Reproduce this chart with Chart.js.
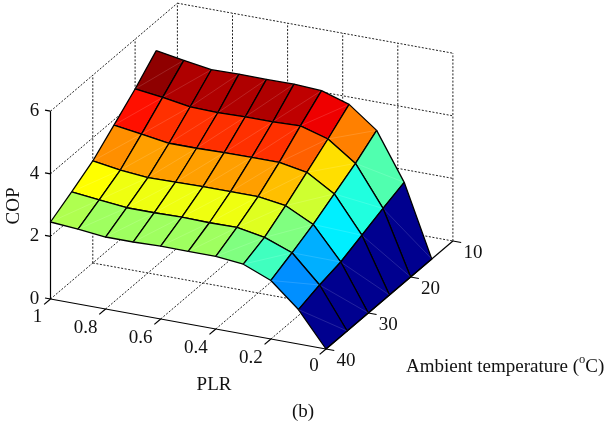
<!DOCTYPE html>
<html><head><meta charset="utf-8">
<style>html,body{margin:0;padding:0;background:#fff}canvas{display:block}</style>
<script src="https://cdn.jsdelivr.net/npm/chart.js@4"></script>
</head><body><canvas id="c" width="607" height="427"></canvas>
<script>
const plrGrid = [1,0.9,0.8,0.7,0.6,0.5,0.4,0.3,0.2,0.1,0];
const tempGrid = [15,20,25,30,35,40];
const cop15 = [5.06,4.91,4.77,4.79,4.78,4.79,4.74,4.46,3.79,2.29,0];
const cop20 = [4.41,4.30,4.16,4.13,4.16,4.16,4.19,3.93,3.31,2.03,0];
const cop25 = [3.83,3.70,3.57,3.57,3.59,3.60,3.60,3.44,2.91,1.75,0];
const cop30 = [3.26,3.13,3.05,3.06,3.08,3.08,3.08,2.95,2.51,1.47,0];
const cop35 = [2.85,2.75,2.66,2.66,2.68,2.66,2.67,2.51,2.18,1.31,0];
const cop40 = [2.46,2.39,2.30,2.30,2.33,2.32,2.32,2.23,1.87,1.10,0];
const copRows = [cop15,cop20,cop25,cop30,cop35,cop40];
const plrTicks = [1,0.8,0.6,0.4,0.2,0];
const plrLabels = ['1','0.8','0.6','0.4','0.2','0'];
const tempTicks = [40,30,20,10];
const copTicks = [0,2,4,6];

// orthographic view of the 3-D box (PLR, temperature, COP) into the 2-D scales
function project(p,t,z){
  return {x: 326 - 275.5*p + 4.23*(40-t), y: 349 - 50*p - 3.6*(40-t) - 31.3*z};
}
const zMax = 5.06;
function jet(v){
  const f = Math.max(0,Math.min(1,v/zMax));
  const k = (Math.min(63,Math.floor(f*64))+1)/64;
  const c = d => Math.round(255*Math.max(0,Math.min(1,1.5-Math.abs(4*k-d))));
  return `rgb(${c(3)},${c(2)},${c(1)})`;
}
const drawn = [];
function seg(a,b,style){
  drawn.push(Object.assign({data:[project(...a),project(...b)],showLine:true,pointRadius:0,fill:false,borderColor:'#000',borderWidth:1},style));
}
const dash = {borderDash:[2,1.6],borderWidth:1,borderColor:'#222'};
// back walls and floor grid
for(const z of copTicks.slice(1)){
  seg([1,40,z],[1,10,z],dash);
  seg([1,10,z],[0,10,z],dash);
}
for(const t of [30,20,10]) seg([1,t,0],[1,t,6],dash);
for(const p of [0.8,0.6,0.4,0.2,0]) seg([p,10,0],[p,10,6],dash);
for(const p of [1,0.8,0.6,0.4,0.2]) seg([p,40,0],[p,10,0],dash);
for(const t of [30,20,10]) seg([1,t,0],[0,t,0],dash);
// surface, painted far to near
tempGrid.slice(0,-1).forEach((t,j)=>{
  plrGrid.slice(0,-1).forEach((p,i)=>{
    const q=plrGrid[i+1], u=tempGrid[j+1];
    const r=copRows[j], s=copRows[j+1];
    const pts=[project(p,t,r[i]),project(q,t,r[i+1]),project(q,u,s[i+1]),project(p,u,s[i]),project(p,t,r[i])];
    drawn.push({data:pts,showLine:true,pointRadius:0,fill:'shape',tension:0,
      backgroundColor:jet(r[i+1]),borderColor:'#000',borderWidth:1.3,borderJoinStyle:'round'});
    drawn.push({data:[project(p,u,s[i]),project(q,t,r[i+1])],showLine:true,pointRadius:0,fill:false,
      borderColor:'rgba(255,255,255,0.2)',borderWidth:0.7});
  });
});
// solid front axes and ticks
const solid={borderColor:'#000',borderWidth:1.2};
seg([1,40,0],[1,40,6],solid);
seg([1,40,0],[0,40,0],solid);
seg([0,40,0],[0,10,0],solid);
for(const z of copTicks) seg([1,40,z],[1.02,40,z],solid);
for(const p of plrTicks) seg([p,40,0],[p,41.5,0],solid);
for(const t of tempTicks) seg([0,t,0],[-0.03,t,0],solid);

const textPlugin={id:'text3d',afterDraw(chart){
  const {ctx,scales:{x:X,y:Y}}=chart;
  const px=o=>({x:X.getPixelForValue(o.x),y:Y.getPixelForValue(o.y)});
  const font=s=>`${s}px "Liberation Serif"`;
  ctx.save();ctx.fillStyle='#111';ctx.textAlign='center';ctx.textBaseline='middle';ctx.font=font(19);
  const put=(s,o,dx,dy)=>{const a=px(o);ctx.fillText(s,a.x+dx,a.y+dy);};
  copTicks.forEach(z=>put(String(z),project(1,40,z),-16,0));
  plrTicks.forEach((p,i)=>put(plrLabels[i],project(p,40,0),p===0?-12:p===1?-13:-20,p===0?17:p===1?18:19));
  tempTicks.forEach(t=>put(String(t),project(0,t,0),20,12));
  put('PLR',{x:214,y:385},0,0);
  put('(b)',{x:303,y:412},0,0);
  ctx.textAlign='left';
  const a=px({x:406,y:367});
  let cx=a.x;
  const t1='Ambient temperature (';ctx.fillText(t1,cx,a.y);cx+=ctx.measureText(t1).width;
  ctx.font=font(12.5);ctx.fillText('o',cx,a.y-7);cx+=ctx.measureText('o').width;
  ctx.font=font(19);ctx.fillText('C)',cx,a.y);
  const c=px({x:14,y:206});
  ctx.translate(c.x,c.y);ctx.rotate(-Math.PI/2);ctx.textAlign='center';ctx.fillText('COP',0,0);
  ctx.restore();
}};

new Chart(document.getElementById('c'),{
  type:'scatter',
  data:{datasets:drawn.slice().reverse()},
  options:{responsive:false,animation:false,
    layout:{padding:0},
    plugins:{legend:{display:false},tooltip:{enabled:false},filler:{propagate:false}},
    scales:{x:{type:'linear',min:0,max:607,display:false},y:{type:'linear',min:0,max:427,reverse:true,display:false}}},
  plugins:[textPlugin]
});
</script></body></html>
